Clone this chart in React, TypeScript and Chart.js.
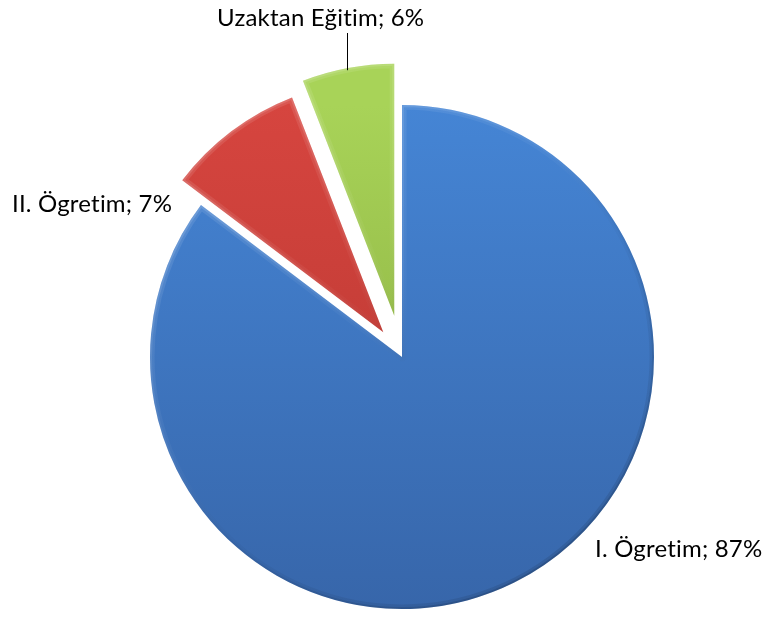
import React, { useEffect, useRef } from "react";
import { Chart, registerables } from "chart.js";

Chart.register(...registerables);

const categories = ["I. Ögretim", "II. Ögretim", "Uzaktan Eğitim"];
const shares = [85.3, 8.8, 5.9];
const percentLabels = ["87%", "7%", "6%"];

const TOP_COLORS = ["#4585d5", "#d6453f", "#a8d358"];
const BOTTOM_COLORS = ["#3766aa", "#b3352f", "#83a53a"];
const EXPLODE = [0, 31, 42];
const RADIUS = 252;
const FONT = "24px Lato, 'Open Sans', sans-serif";

function arcPath(ctx: CanvasRenderingContext2D, arc: any) {
  ctx.beginPath();
  ctx.moveTo(arc.x, arc.y);
  ctx.arc(arc.x, arc.y, arc.outerRadius, arc.startAngle, arc.endAngle);
  ctx.closePath();
}

export default function App() {
  const ref = useRef<HTMLCanvasElement | null>(null);

  useEffect(() => {
    const canvas = ref.current;
    if (!canvas) return;

    const explodePlugin = {
      id: "explodeSlices",
      beforeDatasetsDraw(chart: any) {
        const meta = chart.getDatasetMeta(0);
        const ca = chart.chartArea;
        const cx = (ca.left + ca.right) / 2;
        const cy = (ca.top + ca.bottom) / 2;
        meta.data.forEach((arc: any, i: number) => {
          const mid = (arc.startAngle + arc.endAngle) / 2;
          arc.x = cx + Math.cos(mid) * EXPLODE[i];
          arc.y = cy + Math.sin(mid) * EXPLODE[i];
        });
      },
    };

    const bevelPlugin = {
      id: "bevel",
      afterDatasetsDraw(chart: any) {
        const ctx = chart.ctx as CanvasRenderingContext2D;
        const meta = chart.getDatasetMeta(0);
        meta.data.forEach((arc: any) => {
          ctx.save();
          arcPath(ctx, arc);
          ctx.clip();
          const g = ctx.createLinearGradient(arc.x - RADIUS, arc.y - RADIUS, arc.x + RADIUS * 0.6, arc.y + RADIUS);
          g.addColorStop(0, "rgba(255,255,255,0.35)");
          g.addColorStop(0.45, "rgba(255,255,255,0.08)");
          g.addColorStop(0.6, "rgba(0,0,0,0.06)");
          g.addColorStop(1, "rgba(0,0,0,0.28)");
          ctx.strokeStyle = g;
          ctx.lineJoin = "round";
          ctx.lineWidth = 9;
          ctx.globalAlpha = 0.4;
          arcPath(ctx, arc);
          ctx.stroke();
          ctx.lineWidth = 4;
          ctx.globalAlpha = 0.55;
          arcPath(ctx, arc);
          ctx.stroke();
          ctx.restore();
        });
      },
    };

    const labelPlugin = {
      id: "sliceLabels",
      afterDatasetsDraw(chart: any) {
        const ctx = chart.ctx;
        const meta = chart.getDatasetMeta(0);
        const ca = chart.chartArea;
        const cx = (ca.left + ca.right) / 2;
        const cy = (ca.top + ca.bottom) / 2;
        // label anchors relative to the pie centre (left x, baseline y)
        const anchors = [
          [193, 200],
          [-390, -145],
          [-185, -331],
        ];
        ctx.save();
        ctx.font = FONT;
        try {
          (ctx as any).textRendering = "optimizeSpeed";
          (ctx as any).letterSpacing = "0.2px";
        } catch (e) {}
        ctx.fillStyle = "#000000";
        ctx.textAlign = "left";
        ctx.textBaseline = "alphabetic";
        categories.forEach((c, i) => {
          const [dx, dy] = anchors[i];
          ctx.fillText(`${c}; ${percentLabels[i]}`, cx + dx, cy + dy);
        });
        // leader line for the green slice
        const arc = meta.data[2];
        const lx = cx - 55;
        const ddx = lx - arc.x;
        const yEdge = arc.y - Math.sqrt(Math.max(RADIUS * RADIUS - ddx * ddx, 0));
        ctx.strokeStyle = "#000000";
        ctx.lineWidth = 1;
        ctx.beginPath();
        ctx.moveTo(Math.round(lx) + 0.5, cy - 324);
        ctx.lineTo(Math.round(lx) + 0.5, yEdge + 2);
        ctx.stroke();
        ctx.restore();
      },
    };

    const chart = new Chart(canvas, {
      type: "pie",
      data: {
        labels: categories,
        datasets: [
          {
            data: shares,
            borderWidth: 0,
            hoverOffset: 0,
            radius: RADIUS,
            backgroundColor: (c: any) => {
              const ch = c.chart;
              const ca = ch.chartArea;
              if (!ca) return TOP_COLORS[c.dataIndex];
              const cy = (ca.top + ca.bottom) / 2;
              const g = ch.ctx.createLinearGradient(0, cy - RADIUS, 0, cy + RADIUS);
              g.addColorStop(0, TOP_COLORS[c.dataIndex]);
              g.addColorStop(1, BOTTOM_COLORS[c.dataIndex]);
              return g;
            },
          } as any,
        ],
      },
      options: {
        animation: false,
        responsive: false,
        radius: RADIUS,
        layout: { padding: { left: 30, right: 0, top: 94, bottom: 0 } },
        plugins: {
          legend: { display: false },
          tooltip: { enabled: false },
        },
      } as any,
      plugins: [explodePlugin, bevelPlugin, labelPlugin],
    });

    return () => chart.destroy();
  }, []);

  return (
    <div style={{ position: "fixed", left: 0, top: 0, width: 774, height: 620, background: "#ffffff" }}>
      <canvas ref={ref} width={774} height={620} style={{ display: "block" }} />
    </div>
  );
}
